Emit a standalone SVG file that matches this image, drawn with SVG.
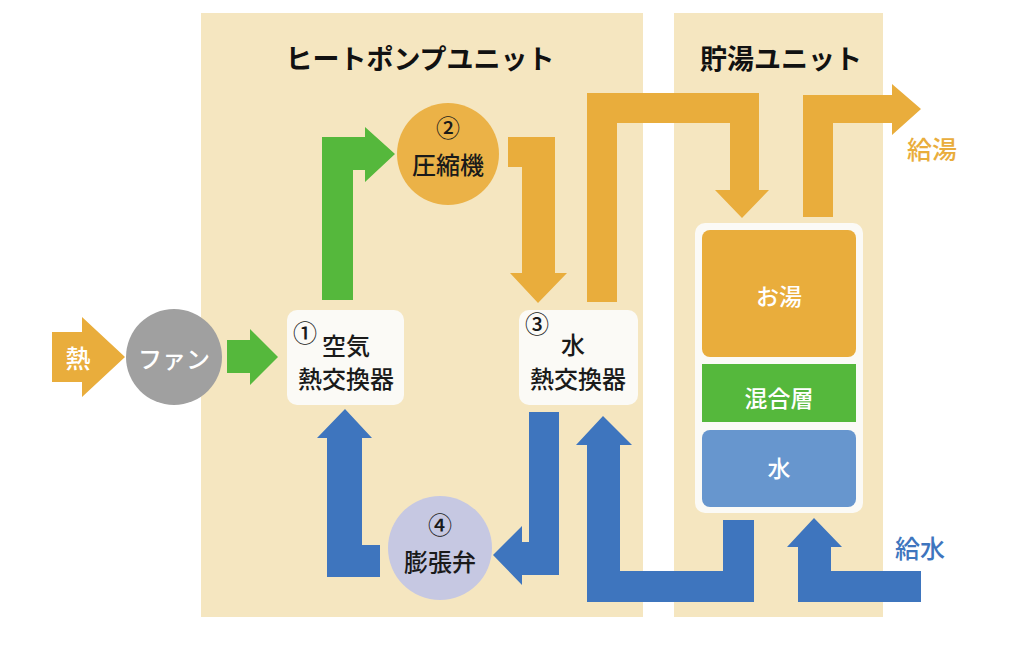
<svg xmlns="http://www.w3.org/2000/svg" width="1024" height="647" viewBox="0 0 1024 647">
<style>
text{font-family:"Noto Sans CJK JP","Noto Sans",sans-serif;dominant-baseline:central;text-anchor:middle}
.t{font-size:27px;font-weight:700;fill:#111}
.n{font-size:24px;font-weight:500;fill:#1a1a1a}
.w{font-size:23px;font-weight:500;fill:#fff}
.o{fill:#E9AD3C}.g{fill:#55B83C}.b{fill:#3E75BE}
</style>
<rect width="1024" height="647" fill="#fff"/>
<g id="panels">
<rect x="201" y="13" width="442" height="604" fill="#F5E6C0"/>
<rect x="674" y="13" width="209" height="604" fill="#F5E6C0"/>
<text class="t" x="420" y="57">ヒートポンプユニット</text>
<text class="t" x="781" y="57">貯湯ユニット</text>
</g>
<g id="connectors">
<polygon class="o" points="52,332 82,332 82,317 125,357 82,397 82,382 52,382"/>
<polygon class="g" points="227,340 250,340 250,329 278,357 250,385 250,373 227,373"/>
<polygon class="g" points="322,300 322,137 365,137 365,127 395,154 365,182 365,170 353,170 353,300"/>
<polygon class="o" points="508,137 555,137 555,273 567,273 538,303 510,273 522,273 522,167 508,167"/>
<polygon class="o" points="587,302 587,93 759,93 759,190 769,190 742,218 715,190 730,190 730,123 617,123 617,302"/>
<polygon class="o" points="803,217 803,95 892,95 892,84 921,109 892,135 892,123 833,123 833,217"/>
<polygon class="b" points="327,577 327,438 317,438 345,409 372,438 362,438 362,545 380,545 380,577"/>
<polygon class="b" points="529,412 559,412 559,575 522,575 522,585 493,555 522,526 522,542 529,542"/>
<polygon class="b" points="723,520 754,520 754,602 587,602 587,445 576,445 603,416 632,445 620,445 620,571 723,571"/>
<polygon class="b" points="921,571 921,602 798,602 798,547 787,547 814,518 842,547 831,547 831,571"/>
<text x="932" y="148" style="font-size:25px;font-weight:500;fill:#E9AD3C">給湯</text>
<text x="920" y="547" style="font-size:25px;font-weight:500;fill:#3E75BE">給水</text>
</g>
<g id="heat">
<text class="w" x="78" y="357" style="font-size:25px">熱</text>
</g>
<g id="fan">
<circle cx="174" cy="357" r="48" fill="#A0A0A0"/>
<text class="w" x="174" y="357" style="font-size:24px">ファン</text>
</g>
<g id="air-hx">
<rect x="287" y="310" width="117" height="95" rx="10" fill="#FBFAF6"/>
<text class="n" x="305" y="331">①</text>
<text class="n" x="346" y="344">空気</text>
<text class="n" x="346" y="377">熱交換器</text>
</g>
<g id="compressor">
<circle cx="448" cy="154" r="51" fill="#EBB247"/>
<text class="n" x="448" y="126">②</text>
<text class="n" x="448" y="163">圧縮機</text>
</g>
<g id="water-hx">
<rect x="519" y="310" width="119" height="95" rx="10" fill="#FBFAF6"/>
<text class="n" x="537" y="322">③</text>
<text class="n" x="573" y="343">水</text>
<text class="n" x="578" y="377">熱交換器</text>
</g>
<g id="valve">
<circle cx="440" cy="548" r="52" fill="#C6C8E2"/>
<text class="n" x="440" y="523">④</text>
<text class="n" x="440" y="560">膨張弁</text>
</g>
<g id="tank">
<rect x="695" y="223" width="168" height="290" rx="10" fill="#FBFAF6"/>
<rect x="702" y="230" width="154" height="127" rx="8" fill="#E9AD3C"/>
<rect x="702" y="364" width="154" height="58" fill="#55B83C"/>
<rect x="702" y="430" width="154" height="77" rx="8" fill="#6796CE"/>
<text class="w" x="779" y="295">お湯</text>
<text class="w" x="779" y="397">混合層</text>
<text class="w" x="779" y="467">水</text>
</g>
</svg>
